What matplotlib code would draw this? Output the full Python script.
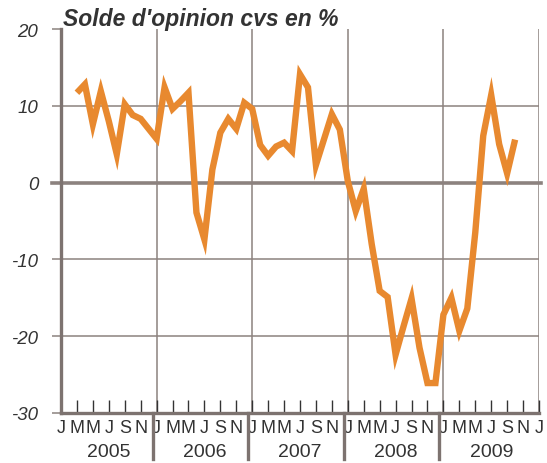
import matplotlib
matplotlib.use("Agg")
import matplotlib.pyplot as plt
import matplotlib.transforms as mtransforms

plt.rcParams['font.family'] = ['Liberation Sans', 'DejaVu Sans']

# monthly index, 0 = Jan 2005 ; data from Mar 2005 to Oct 2009
months = list(range(2, 58))
solde = [11.7, 12.8, 7.6, 11.9, 8.0, 3.7, 10.2, 8.8, 8.3, 7.0,
         5.7, 12.4, 9.6, 10.6, 11.7, -3.9, -7.4, 1.7, 6.5, 8.3, 7.0, 10.4,
         9.6, 4.9, 3.5, 4.7, 5.2, 4.1, 14.1, 12.4, 2.3, 5.6, 8.9, 6.9,
         0.2, -3.7, -0.8, -8.0, -14.1, -14.9, -22.4, -18.7, -15.1, -21.5, -26.1, -26.1,
         -17.2, -15.0, -19.3, -16.4, -6.5, 6.1, 11.4, 5.0, 1.2, 5.6]

month_letters = ['J', 'M', 'M', 'J', 'S', 'N']
years = ['2005', '2006', '2007', '2008', '2009']
yticks = [-30, -20, -10, 0, 10, 20]

grid_col = '#8c827f'
axis_col = '#7d7370'
text_col = '#333333'
line_col = '#e8892f'

fig = plt.figure(figsize=(5.47, 4.64), dpi=100)
ax = fig.add_axes([61/547, 50/464, 478/547, 384/464])

ax.set_xlim(0, 60)
ax.set_ylim(-30, 20)

# grid
for v in [10, -10, -20]:
    ax.axhline(v, color=grid_col, lw=1.1, zorder=1)
for x in [12, 24, 36, 48, 60]:
    ax.axvline(x, color=grid_col, lw=1.1, zorder=1)
ax.plot([-1.1, 60.2], [0, 0], color=grid_col, lw=2.6, clip_on=False, zorder=2)

ax.plot(months, solde, color=line_col, lw=4.6, solid_joinstyle='miter',
        solid_capstyle='butt', zorder=3)

for s in ['top', 'right']:
    ax.spines[s].set_visible(False)
ax.spines['left'].set_color(axis_col)
ax.spines['left'].set_linewidth(2.4)
ax.spines['bottom'].set_color(axis_col)
ax.spines['bottom'].set_linewidth(2.4)
ax.spines['left'].set_zorder(4)
ax.spines['bottom'].set_zorder(4)

ax.set_yticks(yticks)
ax.set_yticklabels([str(v) for v in yticks], style='italic', fontsize=13.5, color=text_col)
ax.tick_params(axis='y', direction='out', length=6.5, width=1.1, color=grid_col, pad=10)

xt = list(range(0, 61, 2))
xl = [month_letters[(i % 12) // 2] for i in xt]
ax.set_xticks(xt)
ax.set_xticklabels(xl, fontsize=13, color=text_col)
ax.tick_params(axis='x', direction='in', length=9.5, width=1.0, color='#333333', pad=4)

trans = mtransforms.blended_transform_factory(ax.transData, ax.transAxes)
for k, y in enumerate(years):
    ax.text(6 + 12*k, -0.1, y, transform=trans, ha='center', va='center',
            fontsize=14, color=text_col)
for x in [11.5, 23.5, 35.5, 47.5]:
    ax.plot([x, x], [0, -0.12], transform=trans, color=axis_col, lw=2.4, clip_on=False)

fig.text(63/547, 1 - 26/464, "Solde d'opinion cvs en %", fontsize=16.5,
         fontweight='bold', style='italic', color=text_col, va='baseline')

fig.savefig('out.png', dpi=100)
